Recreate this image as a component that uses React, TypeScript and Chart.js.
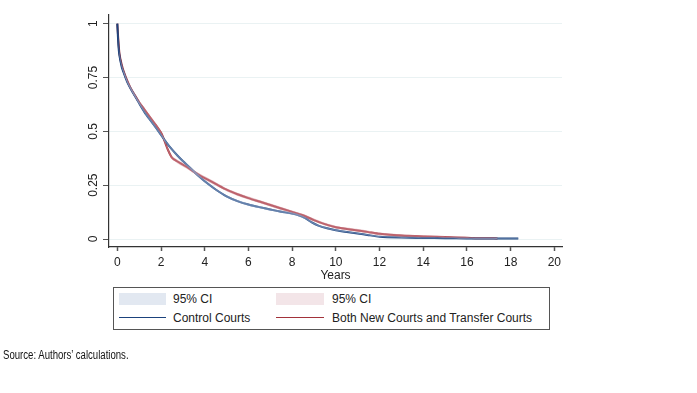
import React, { useEffect, useRef } from "react";
import { Chart, registerables } from "chart.js";

Chart.register(...registerables);

// ---- Data ----
const controlYears = [0, 0.05, 0.1, 0.2, 0.3, 0.45, 0.6, 0.8, 1.0, 1.25, 1.5, 1.75, 2.0, 2.25, 2.5, 2.75, 3.0, 3.25, 3.5, 3.75, 4.0, 4.5, 5.0, 5.5, 6.0, 6.5, 7.0, 7.5, 8.0, 8.3, 8.6, 8.9, 9.2, 9.6, 10.0, 10.5, 11.0, 11.5, 12.0, 13.0, 14.0, 15.0, 16.0, 17.0, 18.35];
const controlSurv = [1.0, 0.9, 0.85, 0.8, 0.77, 0.73, 0.7, 0.665, 0.63, 0.588, 0.553, 0.519, 0.483, 0.448, 0.416, 0.388, 0.362, 0.338, 0.314, 0.29, 0.268, 0.23, 0.198, 0.176, 0.16, 0.148, 0.137, 0.127, 0.118, 0.11, 0.097, 0.077, 0.062, 0.05, 0.041, 0.033, 0.026, 0.018, 0.011, 0.007, 0.005, 0.004, 0.003, 0.003, 0.002];
const controlCIHalf = [0, 0.004, 0.005, 0.005, 0.006, 0.006, 0.006, 0.006, 0.006, 0.006, 0.006, 0.006, 0.006, 0.006, 0.006, 0.006, 0.006, 0.006, 0.006, 0.006, 0.006, 0.005, 0.005, 0.005, 0.005, 0.005, 0.005, 0.005, 0.005, 0.005, 0.005, 0.004, 0.004, 0.004, 0.004, 0.003, 0.003, 0.003, 0.003, 0.002, 0.002, 0.002, 0.002, 0.002, 0.002];

const treatYears = [0, 0.05, 0.1, 0.2, 0.3, 0.45, 0.6, 0.8, 1.0, 1.25, 1.5, 1.75, 2.0, 2.1, 2.3, 2.5, 2.75, 3.0, 3.25, 3.5, 3.75, 4.0, 4.5, 5.0, 5.5, 6.0, 6.5, 7.0, 7.5, 8.0, 8.3, 8.6, 9.0, 9.5, 10.0, 10.5, 11.0, 11.5, 12.0, 13.0, 14.0, 15.0, 16.0, 16.5, 17.0, 17.4];
const treatSurv = [1.0, 0.92, 0.86, 0.81, 0.776, 0.736, 0.703, 0.668, 0.635, 0.6, 0.565, 0.531, 0.494, 0.472, 0.418, 0.378, 0.36, 0.345, 0.33, 0.313, 0.297, 0.283, 0.256, 0.229, 0.208, 0.19, 0.174, 0.158, 0.142, 0.126, 0.116, 0.106, 0.088, 0.069, 0.055, 0.047, 0.04, 0.032, 0.024, 0.016, 0.012, 0.009, 0.006, 0.004, 0.004, 0.003];
const treatCIHalf = [0, 0.005, 0.006, 0.007, 0.007, 0.008, 0.008, 0.008, 0.008, 0.008, 0.008, 0.008, 0.008, 0.008, 0.008, 0.008, 0.008, 0.008, 0.008, 0.008, 0.008, 0.008, 0.008, 0.007, 0.007, 0.007, 0.007, 0.007, 0.007, 0.007, 0.007, 0.007, 0.007, 0.006, 0.006, 0.006, 0.006, 0.006, 0.006, 0.005, 0.005, 0.004, 0.004, 0.003, 0.003, 0.003];

const xTickValues = [0, 2, 4, 6, 8, 10, 12, 14, 16, 18, 20];
const yTickValues = [0, 0.25, 0.5, 0.75, 1];
const yTickLabels = ["0", "0.25", "0.5", "0.75", "1"];

const xAxisTitle = "Years";
const ciLabel = "95% CI";
const controlLabel = "Control Courts";
const treatLabel = "Both New Courts and Transfer Courts";
const sourceNote = "Source: Authors\u2019 calculations.";

// ---- Styles ----
const BLUE = "#1b427c";
const RED = "#a2323a";
const BLUE_CI = "rgba(150,172,205,0.6)";
const RED_CI = "rgba(212,140,152,0.55)";
const BLUE_SWATCH = "#e2e8f1";
const RED_SWATCH = "#f3e5e8";
const GRID = "#eaf2f3";
const AXIS = "#333333";
const FONT = "'Liberation Sans', Arial, sans-serif";

function pts(xs: number[], ys: number[], off: number[] | null, sign: number) {
  return xs.map((x, i) => ({ x, y: ys[i] + (off ? sign * off[i] : 0) }));
}

export default function App() {
  const ref = useRef<HTMLCanvasElement | null>(null);

  useEffect(() => {
    if (!ref.current) return;
    const chart = new Chart(ref.current, {
      type: "line",
      data: {
        datasets: [
          {
            label: "ctrl-upper",
            data: pts(controlYears, controlSurv, controlCIHalf, 1),
            borderWidth: 0,
            borderColor: "rgba(0,0,0,0)",
            backgroundColor: BLUE_CI,
            pointRadius: 0,
            fill: "+1",
            tension: 0.2,
          },
          {
            label: "ctrl-lower",
            data: pts(controlYears, controlSurv, controlCIHalf, -1),
            borderWidth: 0,
            borderColor: "rgba(0,0,0,0)",
            pointRadius: 0,
            fill: false,
            tension: 0.2,
          },
          {
            label: "treat-upper",
            data: pts(treatYears, treatSurv, treatCIHalf, 1),
            borderWidth: 0,
            borderColor: "rgba(0,0,0,0)",
            backgroundColor: RED_CI,
            pointRadius: 0,
            fill: "+1",
            tension: 0.2,
          },
          {
            label: "treat-lower",
            data: pts(treatYears, treatSurv, treatCIHalf, -1),
            borderWidth: 0,
            borderColor: "rgba(0,0,0,0)",
            pointRadius: 0,
            fill: false,
            tension: 0.2,
          },
          {
            label: controlLabel,
            data: pts(controlYears, controlSurv, null, 0),
            borderColor: BLUE,
            borderWidth: 2,
            pointRadius: 0,
            fill: false,
            tension: 0.2,
          },
          {
            label: treatLabel,
            data: pts(treatYears, treatSurv, null, 0),
            borderColor: RED,
            borderWidth: 2,
            pointRadius: 0,
            fill: false,
            tension: 0.2,
          },
        ],
      },
      options: {
        animation: false,
        responsive: false,
        devicePixelRatio: 1,
        layout: { padding: { left: 0, top: 15, right: 135, bottom: 113 } },
        plugins: {
          legend: { display: false },
          tooltip: { enabled: false },
        },
        scales: {
          x: {
            type: "linear",
            min: -0.38,
            max: 20.35,
            afterFit: (s: any) => {
              s.height = 33;
            },
            afterBuildTicks: (s: any) => {
              s.ticks = xTickValues.map((v) => ({ value: v }));
            },
            ticks: {
              autoSkip: false,
              maxRotation: 0,
              minRotation: 0,
              padding: 4,
              color: "#222",
              font: { family: FONT, size: 12 },
              callback: (v: any) => String(v),
            },
            grid: {
              drawOnChartArea: false,
              drawTicks: true,
              tickLength: 4,
              tickColor: "#555",
              tickWidth: 1.5,
            },
            border: { display: true, color: AXIS, width: 1.2 },
            title: {
              display: true,
              text: xAxisTitle,
              color: "#222",
              font: { family: FONT, size: 12 },
              padding: { top: 0, bottom: -3 },
            },
          },
          y: {
            type: "linear",
            min: -0.037,
            max: 1.04,
            afterFit: (s: any) => {
              s.width = 109;
            },
            afterBuildTicks: (s: any) => {
              s.ticks = yTickValues.map((v) => ({ value: v }));
            },
            ticks: {
              autoSkip: false,
              minRotation: 90,
              maxRotation: 90,
              crossAlign: "center",
              padding: -2,
              color: "#222",
              font: { family: FONT, size: 12 },
              callback: (v: any) => {
                const i = yTickValues.indexOf(Number(v));
                return i >= 0 ? yTickLabels[i] : "";
              },
            },
            grid: {
              color: GRID,
              lineWidth: 1,
              drawTicks: true,
              tickLength: 6,
              tickColor: "#555",
            },
            border: { display: true, color: AXIS, width: 1.2 },
          },
        },
      },
    });
    return () => chart.destroy();
  }, []);

  const text: React.CSSProperties = {
    position: "absolute",
    fontFamily: FONT,
    fontSize: 12,
    color: "#222",
    lineHeight: "14px",
    whiteSpace: "nowrap",
  };

  return (
    <div style={{ position: "absolute", left: 0, top: 0, width: 697, height: 393, background: "#fff", overflow: "hidden" }}>
      <canvas ref={ref} width={697} height={393} style={{ position: "absolute", left: 0, top: 0, width: 697, height: 393 }} />
      <div
        style={{
          position: "absolute",
          left: 113,
          top: 287,
          width: 435,
          height: 41,
          border: "1px solid #555",
          background: "#fff",
        }}
      />
      <div style={{ position: "absolute", left: 119, top: 293, width: 47, height: 12, background: BLUE_SWATCH }} />
      <div style={{ ...text, left: 173, top: 292 }}>{ciLabel}</div>
      <div style={{ position: "absolute", left: 276, top: 293, width: 48, height: 12, background: RED_SWATCH }} />
      <div style={{ ...text, left: 332, top: 292 }}>{ciLabel}</div>
      <div style={{ position: "absolute", left: 119, top: 317, width: 47, height: 1, background: BLUE }} />
      <div style={{ ...text, left: 173, top: 311 }}>{controlLabel}</div>
      <div style={{ position: "absolute", left: 276, top: 317, width: 48, height: 1, background: RED }} />
      <div style={{ ...text, left: 332, top: 311 }}>{treatLabel}</div>
      <div
        style={{
          position: "absolute",
          left: 3,
          top: 348,
          fontFamily: FONT,
          fontSize: 12,
          color: "#111",
          lineHeight: "14px",
          whiteSpace: "nowrap",
          transform: "scaleX(0.8)",
          transformOrigin: "0 0",
        }}
      >
        {sourceNote}
      </div>
    </div>
  );
}
